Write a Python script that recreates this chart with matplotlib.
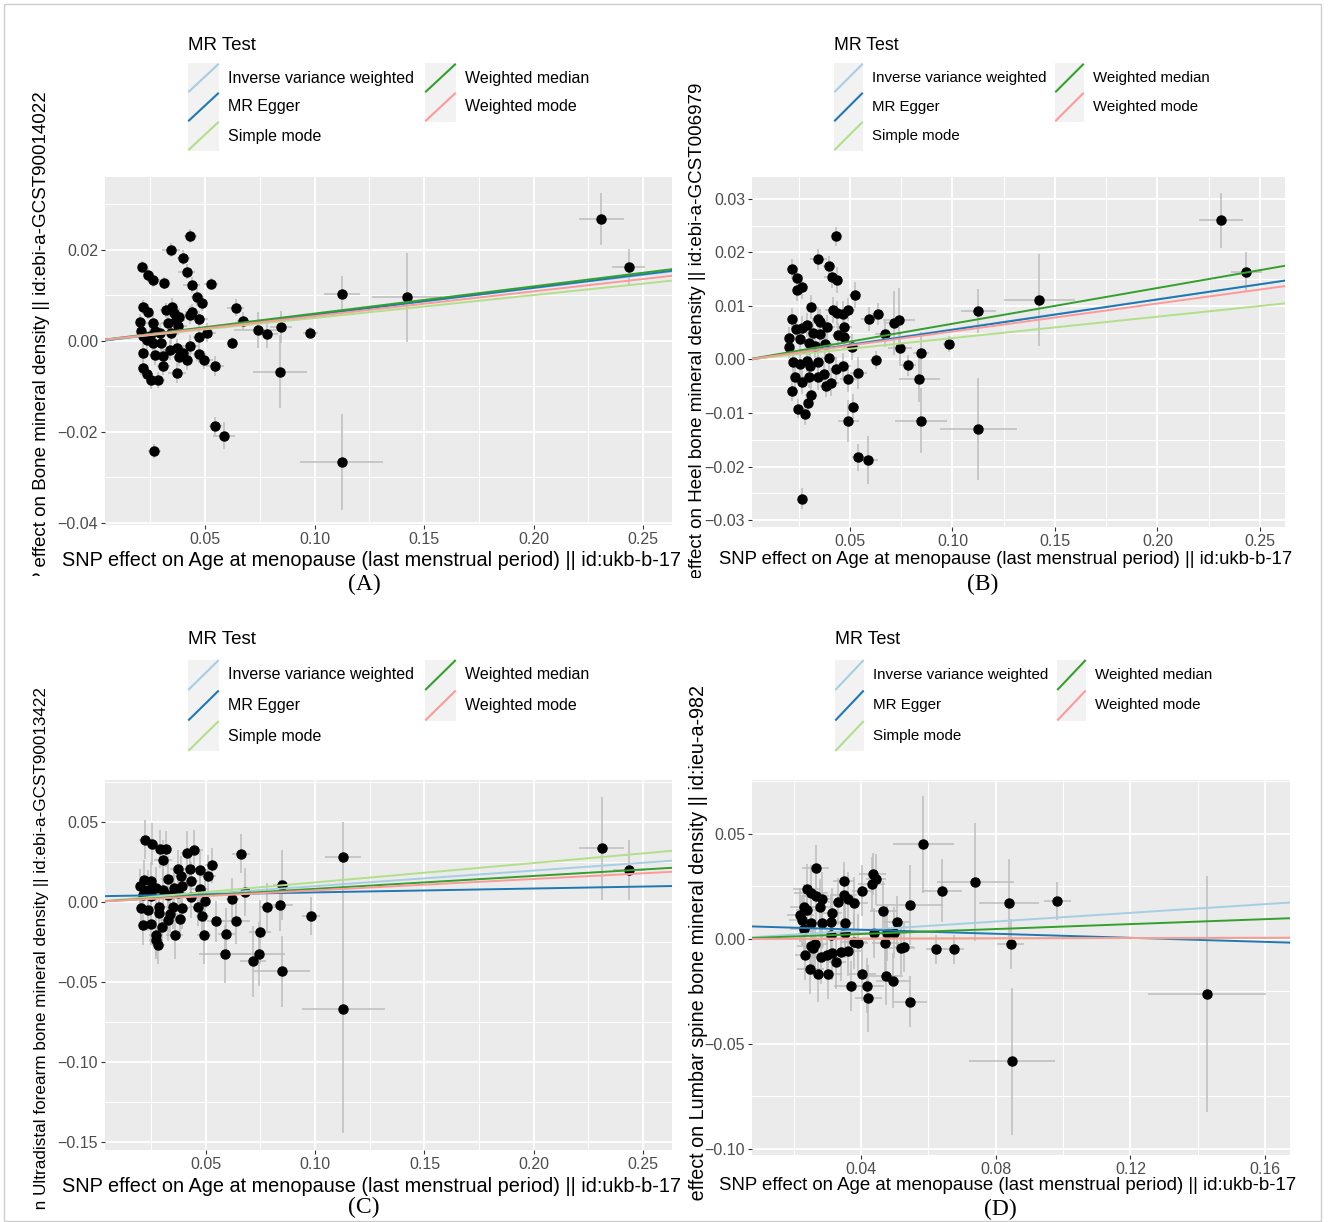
import matplotlib.pyplot as plt
from matplotlib.lines import Line2D
from matplotlib.patches import Rectangle
from matplotlib.transforms import Bbox, TransformedBbox

plt.rcParams['font.family'] = ['Liberation Sans', 'DejaVu Sans']

# MR methods in ggplot legend order, Paired palette
methods = ["Inverse variance weighted", "MR Egger", "Simple mode",
           "Weighted median", "Weighted mode"]
method_colours = ["#A6CEE3", "#1F78B4", "#B2DF8A", "#33A02C", "#FB9A99"]

x_title = "SNP effect on Age at menopause (last menstrual period) || id:ukb-b-17"

# ---- panel A: Bone mineral density ----
a_x = [0.0432, 0.0345, 0.0401, 0.0416, 0.0214, 0.0238, 0.0264, 0.0313, 0.0439, 0.0527,
       0.0465, 0.0485, 0.0215, 0.0238, 0.0322, 0.0348, 0.0358, 0.0383, 0.0368, 0.0432,
       0.0439, 0.0473, 0.0639, 0.0675, 0.0203, 0.0260, 0.0330, 0.0378, 0.0208, 0.0218,
       0.0272, 0.0249, 0.0295, 0.0343, 0.0508, 0.0474, 0.0741, 0.0782, 0.0846, 0.0234,
       0.0264, 0.0297, 0.0432, 0.0622, 0.0218, 0.0272, 0.0310, 0.0340, 0.0374, 0.0401,
       0.0383, 0.0473, 0.0416, 0.0497, 0.0310, 0.0215, 0.0234, 0.0253, 0.0287, 0.0371,
       0.0546, 0.0842, 0.0546, 0.0588, 0.0269, 0.1127, 0.1424, 0.0980, 0.2310, 0.2434,
       0.1124]
a_y = [0.0231, 0.0199, 0.0183, 0.0152, 0.0163, 0.0145, 0.0134, 0.0127, 0.0122, 0.0125,
       0.0096, 0.0083, 0.0074, 0.0064, 0.0067, 0.0074, 0.0061, 0.0053, 0.0046, 0.0057,
       0.0064, 0.0048, 0.0073, 0.0044, 0.0042, 0.0039, 0.0039, 0.0033, 0.0021, 0.0011,
       0.0021, 0.0010, 0.0017, 0.0017, 0.0018, 0.0008, 0.0024, 0.0015, 0.0030, 0.0001,
       -0.0005, -0.0004, -0.0012, -0.0004, -0.0026, -0.0031, -0.0033, -0.0020, -0.0016, -0.0027,
       -0.0036, -0.0029, -0.0043, -0.0043, -0.0055, -0.0059, -0.0073, -0.0086, -0.0086, -0.0071,
       -0.0056, -0.0068, -0.0188, -0.0209, -0.0243, 0.0103, 0.0096, 0.0018, 0.0268, 0.0162,
       -0.0267]
a_se_x = [0.003, 0.004, 0.003, 0.004, 0.002, 0.002, 0.003, 0.002, 0.004, 0.003,
          0.003, 0.003, 0.002, 0.002, 0.003, 0.003, 0.004, 0.003, 0.004, 0.003,
          0.003, 0.004, 0.004, 0.003, 0.002, 0.003, 0.003, 0.004, 0.002, 0.002,
          0.002, 0.003, 0.003, 0.003, 0.004, 0.003, 0.011, 0.005, 0.005, 0.002,
          0.003, 0.003, 0.004, 0.002, 0.002, 0.003, 0.003, 0.003, 0.003, 0.004,
          0.003, 0.003, 0.003, 0.004, 0.003, 0.002, 0.003, 0.002, 0.003, 0.004,
          0.004, 0.0125, 0.003, 0.005, 0.003, 0.0082, 0.016, 0.0035, 0.0104, 0.0074,
          0.019]
a_se_y = [0.0015, 0.0015, 0.0016, 0.0017, 0.0012, 0.0015, 0.0016, 0.0014, 0.0018, 0.0014,
          0.0020, 0.0018, 0.0016, 0.0016, 0.0016, 0.0020, 0.0022, 0.0020, 0.0018, 0.0020,
          0.0016, 0.0018, 0.0018, 0.0020, 0.0016, 0.0020, 0.0022, 0.0020, 0.0018, 0.0018,
          0.0020, 0.0020, 0.0022, 0.0024, 0.0020, 0.0018, 0.0040, 0.0030, 0.0035, 0.0020,
          0.0022, 0.0020, 0.0024, 0.0012, 0.0020, 0.0022, 0.0020, 0.0022, 0.0020, 0.0018,
          0.0020, 0.0020, 0.0022, 0.0020, 0.0020, 0.0018, 0.0020, 0.0020, 0.0018, 0.0022,
          0.0022, 0.0080, 0.0020, 0.0030, 0.0015, 0.0040, 0.0098, 0.0012, 0.0057, 0.0040,
          0.0105]
a_slopes = [0.0578, 0.0592, 0.0502, 0.0598, 0.0543]
a_intercepts = [0.0, -0.0002, 0.0, 0.0, 0.0]

# ---- panel B: Heel bone mineral density ----
b_x = [0.0432, 0.0346, 0.0399, 0.0414, 0.0438, 0.0215, 0.0240, 0.0240, 0.0264, 0.0524,
       0.0310, 0.0419, 0.0438, 0.0467, 0.0492, 0.0215, 0.0346, 0.0354, 0.0237, 0.0264,
       0.0289, 0.0320, 0.0354, 0.0389, 0.0442, 0.0470, 0.0473, 0.0203, 0.0257, 0.0302,
       0.0330, 0.0379, 0.0203, 0.0593, 0.0638, 0.0671, 0.0717, 0.0739, 0.0744, 0.0508,
       0.0626, 0.0781, 0.0845, 0.0983, 0.1126, 0.0224, 0.0257, 0.0289, 0.0306, 0.0346,
       0.0399, 0.0432, 0.0467, 0.0232, 0.0265, 0.0302, 0.0346, 0.0373, 0.0405, 0.0382,
       0.0492, 0.0541, 0.0215, 0.0309, 0.0297, 0.0248, 0.0281, 0.0516, 0.0492, 0.0838,
       0.0845, 0.1126, 0.0541, 0.0586, 0.0267, 0.1424, 0.2310, 0.2434]
b_y = [0.0230, 0.0187, 0.0174, 0.0155, 0.0149, 0.0169, 0.0153, 0.0130, 0.0135, 0.0121,
       0.0098, 0.0093, 0.0087, 0.0085, 0.0093, 0.0076, 0.0076, 0.0070, 0.0057, 0.0059,
       0.0064, 0.0049, 0.0048, 0.0060, 0.0046, 0.0060, 0.0042, 0.0040, 0.0039, 0.0031,
       0.0026, 0.0029, 0.0023, 0.0076, 0.0085, 0.0048, 0.0068, 0.0074, 0.0021, 0.0023,
       -0.0001, -0.0011, 0.0012, 0.0029, 0.0090, -0.0005, -0.0008, -0.0002, -0.0012, -0.0005,
       0.0003, -0.0017, -0.0012, -0.0033, -0.0042, -0.0032, -0.0033, -0.0028, -0.0044, -0.0049,
       -0.0036, -0.0025, -0.0058, -0.0066, -0.0082, -0.0092, -0.0102, -0.0088, -0.0115, -0.0036,
       -0.0114, -0.0130, -0.0183, -0.0188, -0.0260, 0.0112, 0.0260, 0.0164]
b_se_x = [0.002, 0.004, 0.003, 0.004, 0.003, 0.002, 0.002, 0.002, 0.003, 0.003,
          0.002, 0.004, 0.003, 0.004, 0.003, 0.002, 0.003, 0.003, 0.002, 0.003,
          0.003, 0.003, 0.003, 0.004, 0.003, 0.004, 0.003, 0.002, 0.002, 0.003,
          0.003, 0.004, 0.002, 0.004, 0.003, 0.005, 0.004, 0.008, 0.006, 0.004,
          0.003, 0.004, 0.004, 0.003, 0.0085, 0.002, 0.002, 0.003, 0.003, 0.003,
          0.004, 0.003, 0.004, 0.002, 0.002, 0.003, 0.003, 0.003, 0.004, 0.003,
          0.004, 0.004, 0.002, 0.003, 0.002, 0.002, 0.002, 0.003, 0.005, 0.010,
          0.0126, 0.0187, 0.003, 0.005, 0.002, 0.0173, 0.0107, 0.0075]
b_se_y = [0.0018, 0.0020, 0.0020, 0.0022, 0.0024, 0.0018, 0.0020, 0.0020, 0.0022, 0.0024,
          0.0022, 0.0024, 0.0022, 0.0024, 0.0022, 0.0020, 0.0022, 0.0024, 0.0020, 0.0022,
          0.0022, 0.0024, 0.0022, 0.0024, 0.0022, 0.0024, 0.0022, 0.0020, 0.0022, 0.0022,
          0.0024, 0.0024, 0.0020, 0.0022, 0.0020, 0.0024, 0.0060, 0.0060, 0.0030, 0.0024,
          0.0016, 0.0020, 0.0040, 0.0015, 0.0041, 0.0020, 0.0022, 0.0022, 0.0024, 0.0022,
          0.0024, 0.0022, 0.0024, 0.0020, 0.0022, 0.0022, 0.0024, 0.0022, 0.0024, 0.0022,
          0.0024, 0.0030, 0.0020, 0.0022, 0.0020, 0.0018, 0.0020, 0.0024, 0.0040, 0.0044,
          0.0061, 0.0096, 0.0025, 0.0045, 0.0020, 0.0086, 0.0052, 0.0036]
b_slopes = [0.0563, 0.0566, 0.0400, 0.0668, 0.0523]
b_intercepts = [0.0, -0.0001, 0.0, 0.0, 0.0]

# ---- panel C: Ultradistal forearm bone mineral density ----
c_x = [0.0223, 0.0252, 0.0291, 0.0317, 0.0305, 0.0416, 0.0447, 0.0660, 0.0527, 0.0374,
       0.0428, 0.0474, 0.0325, 0.0386, 0.0434, 0.0508, 0.0218, 0.0249, 0.0200, 0.0234,
       0.0272, 0.0302, 0.0356, 0.0393, 0.0474, 0.0211, 0.0249, 0.0325, 0.0371, 0.0432,
       0.0678, 0.0847, 0.0622, 0.0203, 0.0237, 0.0284, 0.0348, 0.0393, 0.0465, 0.0495,
       0.0287, 0.0335, 0.0484, 0.0782, 0.0840, 0.0982, 0.0211, 0.0249, 0.0299, 0.0328,
       0.0381, 0.0546, 0.0640, 0.0492, 0.0357, 0.0272, 0.0272, 0.0283, 0.0594, 0.0747,
       0.0588, 0.0741, 0.0716, 0.0847, 0.1129, 0.1127, 0.2310, 0.2434]
c_y = [0.0388, 0.0360, 0.0329, 0.0329, 0.0258, 0.0304, 0.0325, 0.0300, 0.0227, 0.0206,
       0.0206, 0.0196, 0.0144, 0.0158, 0.0127, 0.0163, 0.0138, 0.0127, 0.0096, 0.0075,
       0.0085, 0.0075, 0.0085, 0.0096, 0.0079, 0.0044, 0.0033, 0.0044, 0.0054, 0.0029,
       0.0058, 0.0106, 0.0019, -0.0040, -0.0054, -0.0033, -0.0033, -0.0040, -0.0033, 0.0002,
       -0.0071, -0.0075, -0.0092, -0.0033, -0.0023, -0.0088, -0.0148, -0.0138, -0.0158, -0.0117,
       -0.0106, -0.0123, -0.0123, -0.0206, -0.0206, -0.0206, -0.0238, -0.0269, -0.0200, -0.0190,
       -0.0327, -0.0327, -0.0373, -0.0435, -0.0671, 0.0277, 0.0333, 0.0198]
c_se_x = [0.003, 0.003, 0.004, 0.003, 0.004, 0.003, 0.004, 0.004, 0.003, 0.004,
          0.003, 0.003, 0.003, 0.004, 0.003, 0.004, 0.002, 0.003, 0.002, 0.003,
          0.003, 0.003, 0.004, 0.003, 0.004, 0.002, 0.003, 0.003, 0.004, 0.003,
          0.003, 0.004, 0.003, 0.002, 0.003, 0.003, 0.004, 0.003, 0.004, 0.003,
          0.003, 0.004, 0.003, 0.004, 0.006, 0.004, 0.002, 0.003, 0.003, 0.004,
          0.003, 0.004, 0.006, 0.003, 0.004, 0.003, 0.003, 0.003, 0.004, 0.005,
          0.012, 0.012, 0.006, 0.013, 0.019, 0.0082, 0.0104, 0.0074]
c_se_y = [0.012, 0.013, 0.012, 0.011, 0.013, 0.014, 0.012, 0.012, 0.011, 0.012,
          0.013, 0.012, 0.014, 0.013, 0.012, 0.013, 0.012, 0.012, 0.011, 0.012,
          0.013, 0.012, 0.013, 0.012, 0.014, 0.011, 0.012, 0.013, 0.012, 0.013,
          0.015, 0.022, 0.013, 0.012, 0.013, 0.012, 0.014, 0.013, 0.012, 0.013,
          0.013, 0.012, 0.014, 0.015, 0.016, 0.012, 0.012, 0.013, 0.012, 0.013,
          0.012, 0.013, 0.014, 0.018, 0.015, 0.013, 0.012, 0.012, 0.016, 0.020,
          0.018, 0.020, 0.022, 0.022, 0.077, 0.022, 0.032, 0.019]
c_slopes = [0.0973, 0.0243, 0.1208, 0.0805, 0.0710]
c_intercepts = [0.0, 0.0034, 0.0, 0.0, 0.0]

# ---- panel D: Lumbar spine bone mineral density ----
d_x = [0.0585, 0.0265, 0.0435, 0.0445, 0.0432, 0.0348, 0.0739, 0.0640, 0.0402, 0.0239,
       0.0252, 0.0265, 0.0283, 0.0348, 0.0361, 0.0331, 0.0380, 0.0544, 0.0277, 0.0314,
       0.0229, 0.0238, 0.0219, 0.0466, 0.0506, 0.0225, 0.0250, 0.0283, 0.0310, 0.0352,
       0.0230, 0.0310, 0.0352, 0.0379, 0.0392, 0.0437, 0.0472, 0.0477, 0.0497, 0.0262,
       0.0258, 0.0250, 0.0234, 0.0280, 0.0300, 0.0313, 0.0340, 0.0360, 0.0325, 0.0519,
       0.0526, 0.0623, 0.0676, 0.0249, 0.0272, 0.0302, 0.0404, 0.0474, 0.0494, 0.0369,
       0.0417, 0.0422, 0.0546, 0.0839, 0.0983, 0.0845, 0.0848, 0.1428]
d_y = [0.0451, 0.0337, 0.0308, 0.0284, 0.0262, 0.0276, 0.0271, 0.0230, 0.0230, 0.0237,
       0.0221, 0.0205, 0.0189, 0.0210, 0.0189, 0.0178, 0.0173, 0.0162, 0.0154, 0.0125,
       0.0151, 0.0138, 0.0114, 0.0135, 0.0083, 0.0090, 0.0078, 0.0078, 0.0083, 0.0075,
       0.0046, 0.0019, 0.0027, -0.0013, -0.0021, 0.0027, -0.0017, 0.0027, 0.0030, -0.0024,
       -0.0044, -0.0033, -0.0076, -0.0084, -0.0076, -0.0065, -0.0060, -0.0057, -0.0108, -0.0041,
       -0.0037, -0.0049, -0.0049, -0.0144, -0.0168, -0.0168, -0.0167, -0.0175, -0.0198, -0.0224,
       -0.0222, -0.0283, -0.0298, 0.0169, 0.0180, -0.0024, -0.0583, -0.0263]
d_se_x = [0.009, 0.004, 0.004, 0.003, 0.004, 0.003, 0.0114, 0.006, 0.003, 0.004,
          0.005, 0.004, 0.003, 0.004, 0.003, 0.003, 0.004, 0.010, 0.004, 0.003,
          0.004, 0.003, 0.004, 0.004, 0.004, 0.004, 0.003, 0.004, 0.004, 0.003,
          0.004, 0.004, 0.004, 0.004, 0.003, 0.005, 0.004, 0.004, 0.004, 0.004,
          0.003, 0.004, 0.003, 0.004, 0.004, 0.003, 0.004, 0.004, 0.003, 0.004,
          0.003, 0.003, 0.003, 0.004, 0.003, 0.004, 0.004, 0.005, 0.005, 0.005,
          0.005, 0.004, 0.005, 0.009, 0.004, 0.004, 0.0128, 0.0175]
d_se_y = [0.023, 0.011, 0.010, 0.012, 0.013, 0.009, 0.028, 0.015, 0.012, 0.012,
          0.013, 0.012, 0.013, 0.012, 0.013, 0.011, 0.012, 0.019, 0.013, 0.012,
          0.011, 0.012, 0.013, 0.014, 0.012, 0.012, 0.013, 0.012, 0.013, 0.012,
          0.011, 0.013, 0.012, 0.013, 0.014, 0.012, 0.015, 0.013, 0.012, 0.012,
          0.013, 0.012, 0.012, 0.013, 0.012, 0.013, 0.014, 0.012, 0.013, 0.013,
          0.012, 0.007, 0.007, 0.012, 0.013, 0.012, 0.013, 0.014, 0.013, 0.012,
          0.013, 0.016, 0.012, 0.021, 0.009, 0.012, 0.035, 0.0563]
d_slopes = [0.1036, -0.0483, 0.0025, 0.0589, 0.0036]
d_intercepts = [0.0, 0.00633, 0.0, 0.0, 0.0]

# ---- layout (pixels of the 1328x1222 image) ----
W, H = 1328, 1222
fig = plt.figure(figsize=(W / 100, H / 100), dpi=100)


def fx(px):
    return px / W


def fy(py):
    return 1 - py / H


panels = [
    dict(x=a_x, y=a_y, sx=a_se_x, sy=a_se_y, slopes=a_slopes, icpt=a_intercepts,
         box=(105, 177, 672, 525), xlim=(0.0043, 0.2632), ylim=(-0.0405, 0.036),
         xticks=[0.05, 0.10, 0.15, 0.20, 0.25], yticks=[-0.04, -0.02, 0.0, 0.02],
         ylabel="SNP effect on Bone mineral density || id:ebi-a-GCST90014022",
         ylab=(42, 351, 13.5), clip=(20, 576), xlab=(372, 560, 14.3), tag="(A)",
         tag_pos=(364, 584), leg=(188, 45, 78, 29, 425, 31, 11.5)),
    dict(x=b_x, y=b_y, sx=b_se_x, sy=b_se_y, slopes=b_slopes, icpt=b_intercepts,
         box=(752, 177, 1285, 527), xlim=(0.0022, 0.2622), ylim=(-0.0313, 0.0341),
         xticks=[0.05, 0.10, 0.15, 0.20, 0.25],
         yticks=[-0.03, -0.02, -0.01, 0.0, 0.01, 0.02, 0.03],
         ylabel="SNP effect on Heel bone mineral density || id:ebi-a-GCST006979",
         ylab=(698, 352, 13.5), clip=(20, 578), xlab=(1006, 560, 13.35), tag="(B)",
         tag_pos=(983, 584), leg=(834, 45, 78, 29, 1055, 29, 10.8)),
    dict(x=c_x, y=c_y, sx=c_se_x, sy=c_se_y, slopes=c_slopes, icpt=c_intercepts,
         box=(105, 780, 672, 1150), xlim=(0.0039, 0.2632), ylim=(-0.155, 0.076),
         xticks=[0.05, 0.10, 0.15, 0.20, 0.25], yticks=[-0.15, -0.10, -0.05, 0.0, 0.05],
         ylabel="SNP effect on Ultradistal forearm bone mineral density || id:ebi-a-GCST90013422",
         ylab=(42, 996, 12.3), clip=(615, 1210), xlab=(372, 1186, 14.3), tag="(C)",
         tag_pos=(364, 1207), leg=(188, 640, 675, 30.5, 425, 31, 11.5)),
    dict(x=d_x, y=d_y, sx=d_se_x, sy=d_se_y, slopes=d_slopes, icpt=d_intercepts,
         box=(752, 780, 1290, 1155), xlim=(0.0076, 0.1674), ylim=(-0.1029, 0.0757),
         xticks=[0.04, 0.08, 0.12, 0.16], yticks=[-0.10, -0.05, 0.0, 0.05],
         ylabel="SNP effect on Lumbar spine bone mineral density || id:ieu-a-982",
         ylab=(698, 965, 14.2), clip=(615, 1205), xlab=(1008, 1186, 13.45), tag="(D)",
         tag_pos=(1000, 1209), leg=(835, 640, 675, 30.5, 1057, 29, 10.9)),
]


def tick_fmt(v):
    return f"{v:.2f}".replace("-", "\u2212")


for p in panels:
    l, t, r, b = p["box"]
    ax = fig.add_axes([fx(l), fy(b), fx(r) - fx(l), fy(t) - fy(b)])
    ax.set_facecolor("#EBEBEB")
    for s in ax.spines.values():
        s.set_visible(False)
    ax.set_xticks(p["xticks"])
    ax.set_xticklabels([tick_fmt(v) for v in p["xticks"]])
    ax.set_yticks(p["yticks"])
    ax.set_yticklabels([tick_fmt(v) for v in p["yticks"]])
    xs = p["xticks"][1] - p["xticks"][0]
    ys = p["yticks"][1] - p["yticks"][0]
    ax.set_xticks([v - xs / 2 for v in p["xticks"]] + [p["xticks"][-1] + xs / 2], minor=True)
    ax.set_yticks([v - ys / 2 for v in p["yticks"]] + [p["yticks"][-1] + ys / 2], minor=True)
    ax.grid(which="major", color="white", lw=1.3)
    ax.grid(which="minor", color="white", lw=0.7)
    ax.set_axisbelow(True)
    ax.tick_params(which="major", length=3, width=0.8, color="#333333",
                   labelcolor="#4D4D4D", labelsize=11.5, pad=2)
    ax.tick_params(which="minor", length=0)

    ax.errorbar(p["x"], p["y"], yerr=p["sy"], fmt="none", ecolor="#BDBDBD", elinewidth=1.1,
                capsize=0, zorder=2)
    ax.errorbar(p["x"], p["y"], xerr=p["sx"], fmt="none", ecolor="#BDBDBD", elinewidth=1.1,
                capsize=0, zorder=2)
    ax.plot(p["x"], p["y"], "o", color="black", ms=6.5, zorder=3)
    for c, sl, ic in zip(method_colours, p["slopes"], p["icpt"]):
        ax.axline((0, ic), slope=sl, color=c, lw=1.4, zorder=4)
    # limits last, so the ticks do not widen them
    ax.set_xlim(*p["xlim"])
    ax.set_ylim(*p["ylim"])

    # axis titles
    tx, ty_, tsz = p["xlab"]
    fig.text(fx(tx), fy(ty_), x_title, ha="center", va="center", fontsize=tsz, color="black")
    yx, yc, ysz = p["ylab"]
    yl = fig.text(fx(yx), fy(yc), p["ylabel"], rotation=90,
                  ha="center", va="center", fontsize=ysz, color="black")
    c0, c1 = p["clip"]
    yl.set_clip_box(TransformedBbox(Bbox.from_extents(0, fy(c1), 1, fy(c0)), fig.transFigure))
    yl.set_clip_on(True)

    fig.text(fx(p["tag_pos"][0]), fy(p["tag_pos"][1]), p["tag"], ha="center", va="center",
             fontsize=17, family=["Liberation Serif", "DejaVu Serif"])

    # legend drawn like ggplot's guide
    lx, ty, row0, rh, col2, kw, lsz = p["leg"]
    fig.text(fx(lx), fy(ty), "MR Test", ha="left", va="center", fontsize=lsz + 2)
    for i, (name, col) in enumerate(zip(methods, method_colours)):
        cx = lx if i < 3 else col2
        cy = row0 + (i if i < 3 else i - 3) * rh
        y0, y1 = cy + rh / 2, cy - rh / 2
        fig.add_artist(Rectangle((fx(cx), fy(y0)), kw / W, rh / H, transform=fig.transFigure,
                                 facecolor="#F2F2F2", edgecolor="none"))
        fig.add_artist(Line2D([fx(cx + 1), fx(cx + kw - 1)], [fy(y0 - 1), fy(y1 + 1)],
                              transform=fig.transFigure, color=col, lw=1.5))
        fig.text(fx(cx + kw + 9), fy(cy), name, ha="left", va="center", fontsize=lsz,
                 color="black")

# thin frame round the whole figure
fig.add_artist(Rectangle((fx(4), fy(1221)), (1321 - 4) / W, (1221 - 4) / H,
                         transform=fig.transFigure, facecolor="none", edgecolor="#CCCCCC", lw=1))

fig.savefig("out.png", dpi=100)
